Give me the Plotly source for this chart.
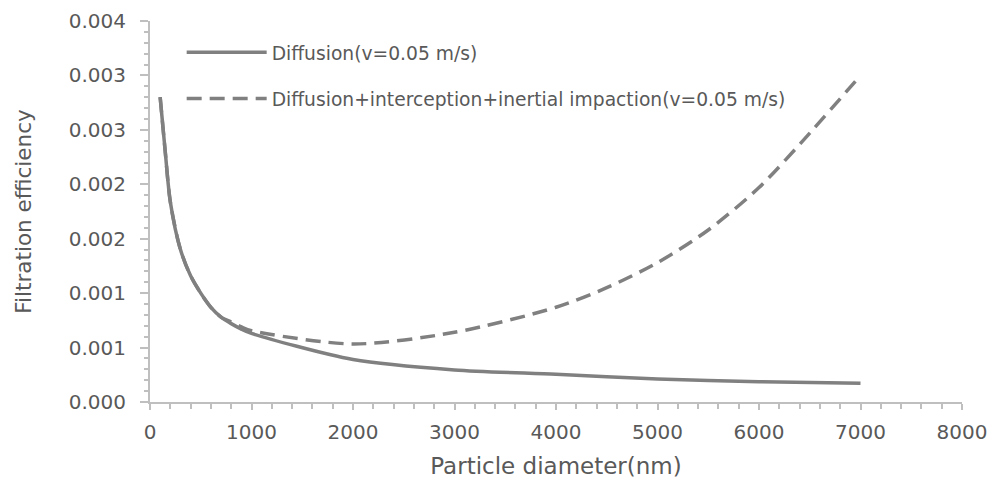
import plotly.graph_objects as go

# Particle diameter (nm) and filtration efficiency
diam_diff = [100, 150, 200, 300, 400, 500, 600, 700, 800, 900, 1000,
             2000, 3000, 4000, 5000, 6000, 7000]
eff_diff = [0.00280, 0.00230, 0.00184, 0.00140, 0.00116, 0.00100, 0.00087, 0.00078,
            0.00072, 0.00067, 0.00063,
            0.00039, 0.000295, 0.000255, 0.000212, 0.000186, 0.000172]

diam_total = [100, 150, 200, 300, 400, 500, 600, 700, 800, 900, 1000,
              2000, 3000, 4000, 4500, 5000, 5500, 6000, 6500, 7000]
eff_total = [0.00280, 0.00230, 0.00184, 0.00140, 0.00116, 0.00100, 0.00087, 0.00078,
             0.000735, 0.00069, 0.000655,
             0.000533, 0.00064, 0.00087, 0.00105, 0.00128, 0.00158, 0.00197, 0.00247, 0.00300]

y_tickvals = [0, 0.0005, 0.001, 0.0015, 0.002, 0.0025, 0.003, 0.0035]
y_ticktext = ["0.000", "0.001", "0.001", "0.002", "0.002", "0.003", "0.003", "0.004"]
x_tickvals = [0, 1000, 2000, 3000, 4000, 5000, 6000, 7000, 8000]

GRAY_TXT = "#595959"
AXIS = "#bfbfbf"
LINE = "#808080"
FONT = "DejaVu Sans"

fig = go.Figure()
fig.add_trace(go.Scatter(x=diam_diff, y=eff_diff, mode="lines",
                         name="Diffusion(v=0.05 m/s)", legendgroup="a",
                         line=dict(color=LINE, width=3.5, shape="spline", smoothing=0.8)))
fig.add_trace(go.Scatter(x=diam_total, y=eff_total, mode="lines",
                         name="Diffusion+interception+inertial impaction(v=0.05 m/s)",
                         legendgroup="b",
                         line=dict(color=LINE, width=3.5, dash="15px,8px", shape="spline",
                                   smoothing=0.8)))

fig.update_layout(
    width=994, height=482,
    margin=dict(l=150, r=32, t=21, b=80),
    paper_bgcolor="white", plot_bgcolor="white",
    font=dict(family=FONT, color=GRAY_TXT),
    legend=dict(x=0.039, y=0.967, xanchor="left", yanchor="top",
                font=dict(size=18.7, color=GRAY_TXT, family=FONT),
                bgcolor="rgba(0,0,0,0)", tracegroupgap=19, itemwidth=80),
    xaxis=dict(range=[0, 8000], tickvals=x_tickvals, showgrid=False, zeroline=False,
               automargin=False,
               showline=True, linecolor=AXIS, linewidth=2,
               ticks="outside", ticklen=6, tickcolor=AXIS, tickwidth=1.5,
               tickfont=dict(size=20, color=GRAY_TXT), ticklabelstandoff=5,
               minor=dict(dtick=200, ticks="outside", ticklen=5, tickcolor=AXIS, tickwidth=1.5),
               title=dict(text="Particle diameter(nm)", font=dict(size=23, color=GRAY_TXT),
                          standoff=15)),
    yaxis=dict(range=[0, 0.0035], tickvals=y_tickvals, ticktext=y_ticktext,
               showgrid=False, zeroline=False, automargin=False,
               showline=True, linecolor=AXIS, linewidth=2,
               ticks="outside", ticklen=8, tickcolor=AXIS, tickwidth=1.5,
               tickfont=dict(size=20, color=GRAY_TXT), ticklabelstandoff=10,
               minor=dict(dtick=0.0001, ticks="outside", ticklen=4, tickcolor=AXIS, tickwidth=1.5),
               title=dict(text="Filtration efficiency", font=dict(size=21.5, color=GRAY_TXT),
                          standoff=31)),
)

fig.write_html("out.html")
